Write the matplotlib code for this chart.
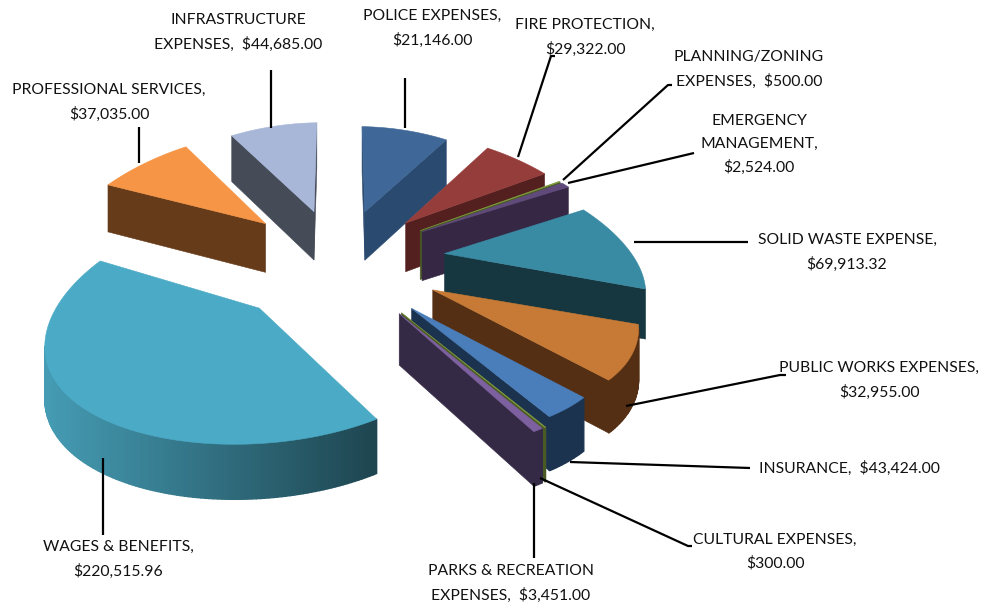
import numpy as np
import matplotlib
matplotlib.use('Agg')
import matplotlib.pyplot as plt
from matplotlib.colors import to_rgb
from matplotlib.patches import Polygon

plt.rcParams['font.family'] = ['Lato', 'DejaVu Sans']

names = ['POLICE EXPENSES,', 'FIRE PROTECTION,', 'PLANNING/ZONING\nEXPENSES, ',
         'EMERGENCY\nMANAGEMENT,', 'SOLID WASTE EXPENSE,', 'PUBLIC WORKS EXPENSES,',
         'INSURANCE, ', 'CULTURAL EXPENSES,', 'PARKS & RECREATION\nEXPENSES, ',
         'WAGES & BENEFITS,', 'PROFESSIONAL SERVICES,', 'INFRASTRUCTURE\nEXPENSES, ']
amounts = [21146.00, 29322.00, 500.00, 2524.00, 69913.32, 32955.00,
           43424.00, 300.00, 3451.00, 220515.96, 37035.00, 44685.00]
# the drawn slices do not follow the labelled amounts, so sweep is read off the picture
slice_sizes = [29, 21, 0.4, 2.6, 46, 32, 14, 0.3, 2.7, 156, 29, 28]
slice_explode = [0.54, 0.54, 0.54, 0.54, 0.54, 0.49, 0.50, 0.50, 0.50, 0.52, 0.56, 0.54]
slice_radius = [1.0, 1.05, 1.05, 1.05, 0.98, 0.96, 0.93, 0.97, 0.97, 0.98, 1.07, 1.05]

top_colors = ['#3F6797', '#953D3B', '#7F9A3E', '#604A7B', '#398AA3', '#C67A35',
              '#4A7EBB', '#7F9A3E', '#7D60A0', '#4BAAC6', '#F69546', '#A8B7D8']
wall_colors = ['#2B4A70', '#53201F', '#4A5A24', '#362844', '#163740', '#542F14',
               '#1C3350', '#4A5A24', '#352A46', '#1E4550', '#663B1A', '#454C58']
# only the big slice fades along its rim
rim_colors = list(wall_colors)
rim_colors[9] = '#459CB4'

# label centre x, first line y
label_pos = [(432, 15), (585, 24), (749, 56), (759, 120), (847, 239), (879, 367),
             (849, 467), (775, 539), (511, 570), (118, 546), (109, 89), (238, 19)]
leaders = [[(405, 78), (405, 128)], [(555, 56), (551, 56), (518, 157)],
           [(672, 85), (668, 85), (563, 180)], [(694, 153), (568, 183)],
           [(748, 242), (634, 242)], [(786, 375), (780, 375), (626, 406)],
           [(750, 468), (570, 462)], [(692, 546), (688, 546), (540, 478)],
           [(534, 558), (534, 483)], [(103, 535), (103, 458)],
           [(139, 127), (139, 163)], [(271, 70), (271, 128)]]

cx, cy = 339, 265
rx, ry = 205, 109
persp = 0.13
sag = 10
depth = 50


def project(u, v, drop=0.0):
    w = 1 + persp * v
    return np.column_stack((cx + rx * u / w, cy - ry * v / w + sag * u ** 2 + drop / np.sqrt(w)))


def face(ax, pts, color, lw=0.4):
    # keep only faces turned to the viewer
    x, y = pts[:, 0], pts[:, 1]
    area = np.sum(x * np.roll(y, -1) - np.roll(x, -1) * y)
    if area > 0:
        ax.add_patch(Polygon(pts, closed=True, fc=color, ec=color, lw=lw))


fig = plt.figure(figsize=(9.91, 6.08), dpi=100)
ax = fig.add_axes([0, 0, 1, 1])
ax.set_xlim(0, 991)
ax.set_ylim(608, 0)
ax.axis('off')

sizes = np.array(slice_sizes, dtype=float)
edges = np.radians(np.r_[0, np.cumsum(sizes)] * 360 / sizes.sum())
mids = (edges[:-1] + edges[1:]) / 2

# far slices first
for i in np.argsort(-np.cos(mids)):
    u0, v0 = slice_explode[i] * np.sin(mids[i]), slice_explode[i] * np.cos(mids[i])
    t = np.linspace(edges[i], edges[i + 1], max(3, int(np.degrees(edges[i + 1] - edges[i]))))
    u = np.r_[u0, u0 + slice_radius[i] * np.sin(t)]
    v = np.r_[v0, v0 + slice_radius[i] * np.cos(t)]
    top = project(u, v)
    low = project(u, v, depth)

    # cut faces
    face(ax, np.array([top[0], low[0], low[1], top[1]]), wall_colors[i])
    face(ax, np.array([top[-1], low[-1], low[0], top[0]]), wall_colors[i])
    # rim, seen from the outside
    c0, c1 = np.array(to_rgb(rim_colors[i])), np.array(to_rgb(wall_colors[i]))
    lo_x, hi_x = top[1:, 0].min(), top[1:, 0].max()
    for j in range(1, len(top) - 1):
        f = (top[j, 0] - lo_x) / max(hi_x - lo_x, 1)
        face(ax, np.array([top[j], low[j], low[j + 1], top[j + 1]]), c0 + (c1 - c0) * f, lw=1.0)
    ax.add_patch(Polygon(top, closed=True, fc=top_colors[i], ec=top_colors[i], lw=0.4))

for pts in leaders:
    p = np.array(pts)
    ax.plot(p[:, 0], p[:, 1], color='black', lw=1.6, solid_capstyle='butt', zorder=5)

for name, amount, (x, y) in zip(names, amounts, label_pos):
    sep = ' ' if name.endswith(' ') else '\n'
    ax.text(x, y - 6, f'{name}{sep}${amount:,.2f}', ha='center', va='top',
            fontsize=11.3, color='#111111', linespacing=1.78)

fig.savefig('out.png', dpi=100)
